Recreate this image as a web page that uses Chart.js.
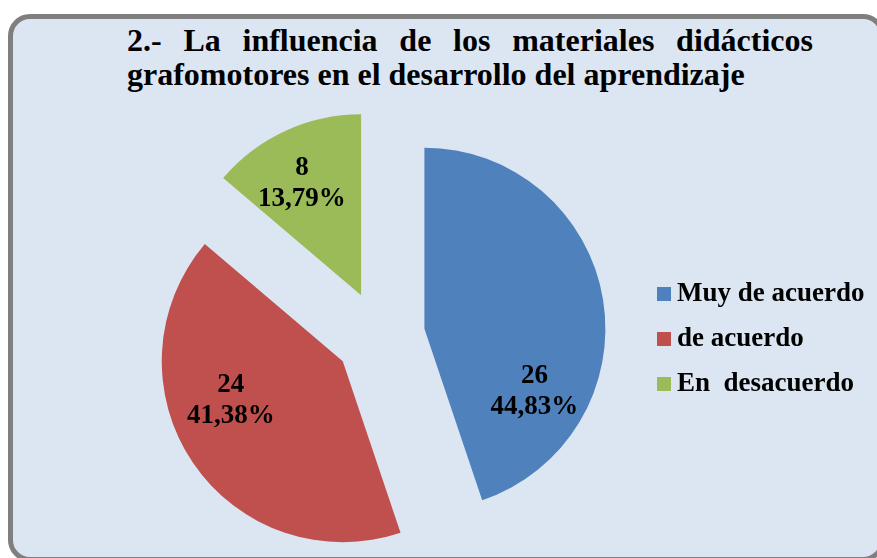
<!DOCTYPE html>
<html>
<head>
<meta charset="utf-8">
<script src="https://cdn.jsdelivr.net/npm/chart.js@4"></script>
<style>
  html, body { margin: 0; padding: 0; background: #ffffff; }
  body { width: 877px; height: 558px; position: relative; overflow: hidden; font-family: 'Liberation Serif', 'Times New Roman', serif; }
  #frame {
    position: absolute; left: 8px; top: 14px; width: 877px; height: 548px;
    box-sizing: border-box; border: 5px solid #7f7f7f; border-radius: 22px;
    background: #dce6f2;
  }
  #title {
    position: absolute; left: 127px; top: 23px; width: 686px;
    font-weight: bold; font-size: 32px; line-height: 34px; color: #000;
    text-align: justify; text-align-last: left;
  }
  #chart-wrap { position: absolute; left: 0; top: 0; width: 877px; height: 558px; }
  #legend { position: absolute; left: 657px; top: 0; }
  .leg-item { position: absolute; left: 0; white-space: pre; font-weight: bold; font-size: 27px; line-height: 27px; color: #000; }
  .leg-box { position: absolute; left: 0; width: 14px; height: 14px; }
  .leg-text { position: absolute; left: 20px; top: 0; }
</style>
</head>
<body>
<div id="frame"></div>
<div id="title">2.- La influencia de los materiales didácticos grafomotores en el desarrollo del aprendizaje</div>
<div id="chart-wrap"><canvas id="chart-pie" width="877" height="558"></canvas></div>
<div id="legend"></div>

<script>
const categories = ['Muy de acuerdo', 'de acuerdo', 'En  desacuerdo'];
const counts     = [26, 24, 8];
const colors     = ['#4f81bd', '#c0504d', '#9bbb59'];

// label placement inside each slice: angle shift from bisector (deg), fraction of radius
const labelShift = [39, 15, -3];
const labelDist  = [0.70, 0.655, 0.70];

const EXPLODE = 45;
const total = counts.reduce((a, b) => a + b, 0);
const pctText = v => (v / total * 100).toFixed(2).replace('.', ',') + '%';

// draws each slice pushed out along its bisector
const explodePlugin = {
  id: 'explode',
  beforeDatasetDraw(chart, args) {
    const ctx = chart.ctx;
    args.meta.data.forEach(arc => {
      const mid = (arc.startAngle + arc.endAngle) / 2;
      ctx.save();
      ctx.translate(Math.cos(mid) * EXPLODE, Math.sin(mid) * EXPLODE);
      arc.draw(ctx, chart.chartArea);
      ctx.restore();
    });
    return false;
  },
  afterDatasetsDraw(chart) {
    const ctx = chart.ctx;
    const meta = chart.getDatasetMeta(0);
    ctx.save();
    ctx.fillStyle = '#000';
    ctx.font = 'bold 27px "Liberation Serif", "Times New Roman", serif';
    ctx.textAlign = 'center';
    ctx.textBaseline = 'middle';
    meta.data.forEach((arc, i) => {
      const mid = (arc.startAngle + arc.endAngle) / 2;
      const a = mid + labelShift[i] * Math.PI / 180;
      const r = arc.outerRadius * labelDist[i];
      const x = arc.x + Math.cos(mid) * EXPLODE + Math.cos(a) * r;
      const y = arc.y + Math.sin(mid) * EXPLODE + Math.sin(a) * r;
      ctx.fillText(String(counts[i]), x, y - 15);
      ctx.fillText(pctText(counts[i]), x, y + 16);
    });
    ctx.restore();
  }
};

new Chart(document.getElementById('chart-pie'), {
  type: 'pie',
  data: {
    labels: categories,
    datasets: [{
      data: counts,
      backgroundColor: colors,
      borderWidth: 0,
      offset: 0,
      hoverOffset: 0,
      clip: false,
    }]
  },
  options: {
    responsive: false,
    animation: false,
    radius: 181,
    events: [],
    layout: { padding: { left: 0, right: 117, top: 114, bottom: 0 } },
    plugins: {
      legend: { display: false },
      title: { display: false },
      tooltip: { enabled: false },
    },
  },
  plugins: [explodePlugin],
});

// legend
const legend = document.getElementById('legend');
categories.forEach((name, i) => {
  const item = document.createElement('div');
  item.className = 'leg-item';
  item.style.top = (279 + i * 45) + 'px';
  item.innerHTML = '<div class="leg-box" style="top:8px;background:' + colors[i] + '"></div>' +
                   '<div class="leg-text"></div>';
  item.querySelector('.leg-text').textContent = name;
  legend.appendChild(item);
});
</script>
</body>
</html>
